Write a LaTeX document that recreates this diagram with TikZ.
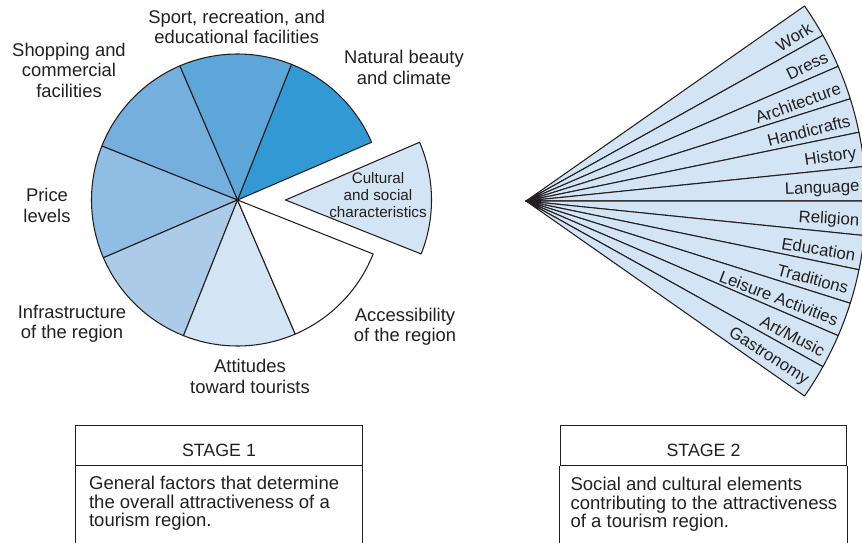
\documentclass[tikz,border=0pt]{standalone}
\usepackage{fontspec}
\setmainfont{Liberation Sans}
\usepackage{xcolor}
\usepackage{tikz}
\usetikzlibrary{positioning,calc}

\definecolor{blueA}{RGB}{51,153,212}
\definecolor{blueB}{RGB}{92,166,217}
\definecolor{blueC}{RGB}{117,175,221}
\definecolor{blueD}{RGB}{144,189,227}
\definecolor{blueE}{RGB}{171,203,233}
\definecolor{blueF}{RGB}{211,228,244}
\definecolor{ink}{RGB}{35,31,32}

\tikzset{
  slice/.style={draw=ink, line width=0.9pt, line join=round},
  lbl/.style={align=center, text=ink, inner sep=0pt, font=\fontsize{15.7}{17.5}\selectfont},
  small lbl/.style={align=center, text=ink, inner sep=0pt, font=\fontsize{13}{14.5}\selectfont},
  ray lbl/.style={anchor=east, text=ink, inner sep=0pt, font=\fontsize{14.3}{16}\selectfont},
  stagehead/.style={draw=ink, line width=0.8pt, text=ink, minimum width=86mm, minimum height=12.1mm,
    inner sep=0pt, text height=6.4mm, font=\fontsize{15.2}{17}\selectfont},
  stagetext/.style={align=left, text=ink, inner sep=0pt, font=\fontsize{15.8}{15.6}\selectfont}
}

\begin{document}
\begin{tikzpicture}[x=0.3mm, y=0.3mm]
\useasboundingbox (0,0) rectangle (862,-542);
\clip (0,0) rectangle (862,-542);

% stage 1: pie of general factors
\coordinate (c) at (237.5,-200);
\foreach \col [count=\i from 0] in {blueA,blueB,blueC,blueD,blueE,blueF,white}
  \filldraw[slice, fill=\col] (c) -- +({23.3+45*\i}:146) arc[start angle={23.3+45*\i}, delta angle=45, radius=146] -- cycle;
\coordinate (cc) at ($(c)+(48,0)$);
\filldraw[slice, fill=blueF] (cc) -- +(-21.7:146) arc[start angle=-21.7, delta angle=45, radius=146] -- cycle;

\node[lbl] (nat) at (404,-67.5) {Natural beauty\\and climate};
\node[lbl] (sport) at (236.7,-27) {Sport, recreation, and\\educational facilities};
\node[lbl] (shop) at (69,-70) {Shopping and\\commercial\\facilities};
\node[lbl] (price) at (47,-205.5) {Price\\levels};
\node[lbl] (infra) at (72,-323.5) {Infrastructure\\of the region};
\node[lbl] (att) at (250,-376.5) {Attitudes\\toward tourists};
\node[lbl] (acc) at (405,-326.5) {Accessibility\\of the region};
\node[small lbl] (cult) at (378,-195) {Cultural\\and social\\characteristics};

% stage 2: fan of social and cultural elements
\coordinate (apex) at (526,-201);
\foreach \w [count=\i from 0] in {Work,Dress,Architecture,Handicrafts,History,Language,Religion,Education,Traditions,Leisure Activities,Art/Music,Gastronomy} {
  \pgfmathsetmacro\a{35-\i*70/12}
  \filldraw[slice, fill=blueF] (apex) -- +(\a:340) arc[start angle=\a, delta angle=-70/12, radius=340] -- cycle;
  \node[ray lbl, rotate={\a-35/12-0.6}] (w\i) at ($(apex)+({\a-35/12-0.6}:334)$) {\w};
}

% captions
\node[stagehead] (st1) at (219,-445.5) {STAGE 1};
\draw[draw=ink, line width=0.8pt] (st1.south west) -- ++(0,-120) (st1.south east) -- ++(0,-120);
\node[stagetext, below right=3mm and 4.1mm of st1.south west] (txt1) {General factors that determine\\the overall attractiveness of a\\tourism region.};

\node[stagehead] (st2) at (703.5,-445.5) {STAGE 2};
\draw[draw=ink, line width=0.8pt] (st2.south west) -- ++(0,-120) (st2.south east) -- ++(0,-120);
\node[stagetext, below right=3.3mm and 3.2mm of st2.south west] (txt2) {Social and cultural elements\\contributing to the attractiveness\\of a tourism region.};
\end{tikzpicture}
\end{document}
